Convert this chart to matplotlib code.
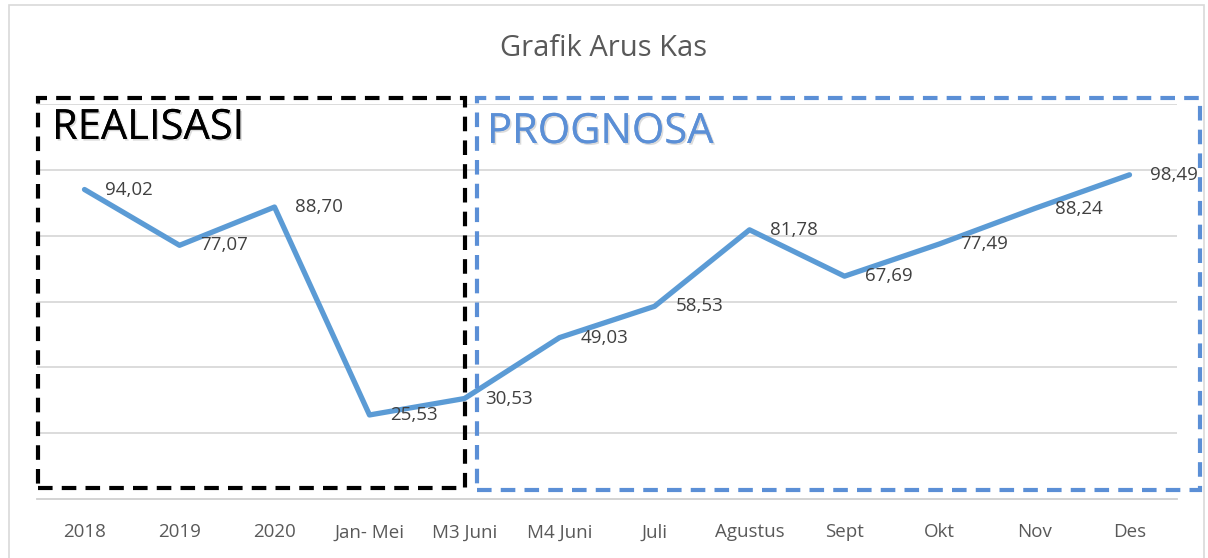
import matplotlib
matplotlib.use("Agg")
import matplotlib.pyplot as plt
from matplotlib.patches import Rectangle
import matplotlib.patheffects as pe

categories = ["2018", "2019", "2020", "Jan- Mei", "M3 Juni", "M4 Juni", "Juli",
              "Agustus", "Sept", "Okt", "Nov", "Des"]
values = [94.02, 77.07, 88.70, 25.53, 30.53, 49.03, 58.53, 81.78, 67.69, 77.49, 88.24, 98.49]
value_labels = ["94,02", "77,07", "88,70", "25,53", "30,53", "49,03", "58,53",
                "81,78", "67,69", "77,49", "88,24", "98,49"]
title = "Grafik Arus Kas"

W, H = 1208, 558
plt.rcParams['font.family'] = ['Open Sans', 'DejaVu Sans']
fig = plt.figure(figsize=(W / 100, H / 100), dpi=100)

def fx(px):
    return px / W

def fy(py):
    return 1 - py / H

# outer chart border
fig.patches.append(Rectangle((fx(9), fy(560)), fx(1204) - fx(9), fy(5) - fy(560),
                             transform=fig.transFigure, fill=False,
                             edgecolor="#D9D9D9", linewidth=1.2))

left, right, top, bottom = 37, 1177, 104, 499
ax = fig.add_axes([fx(left), fy(bottom), fx(right) - fx(left), fy(top) - fy(bottom)])
x = list(range(len(categories)))
ax.plot(x, values, color="#5B9BD5", linewidth=3.8, solid_capstyle="round",
        solid_joinstyle="round", zorder=3)
ax.set_xlim(-0.5, len(categories) - 0.5)
ax.set_ylim(0, 120)
ax.set_yticks([20, 40, 60, 80, 100, 120])
ax.yaxis.grid(True, color="#D9D9D9", linewidth=1.3)
ax.set_axisbelow(True)
for s in ["top", "left", "right"]:
    ax.spines[s].set_visible(False)
ax.spines["bottom"].set_color("#D0D0D0")
ax.spines["bottom"].set_linewidth(1.3)
ax.tick_params(axis="y", left=False, labelleft=False)
ax.tick_params(axis="x", bottom=False, pad=14, labelsize=13.5, labelcolor="#595959")
ax.set_xticks(x)
ax.set_xticklabels(categories)

for xi, v, lab in zip(x, values, value_labels):
    ax.annotate(lab, (xi, v), xytext=(15, 0), textcoords="offset points",
                ha="left", va="center", fontsize=13.5, color="#404040", zorder=4)

fig.text(0.5, fy(48), title, ha="center", va="center", fontsize=21, color="#595959")

# dashed boxes
fig.patches.append(Rectangle((fx(38), fy(488)), fx(465) - fx(38), fy(98) - fy(488),
                             transform=fig.transFigure, fill=False, edgecolor="black",
                             linewidth=3, linestyle=(0, (3.5, 2.2)), zorder=10))
fig.patches.append(Rectangle((fx(477), fy(490)), fx(1200) - fx(477), fy(98) - fy(490),
                             transform=fig.transFigure, fill=False, edgecolor="#5B8FD6",
                             linewidth=3, linestyle=(0, (3.5, 2.2)), zorder=10))

shadow = [pe.withSimplePatchShadow(offset=(1.2, -1.2), shadow_rgbFace="#999999", alpha=0.35),
          pe.Normal()]
fig.text(fx(52), fy(128), "REALISASI", ha="left", va="center", fontsize=30,
         color="black", path_effects=shadow)
fig.text(fx(487), fy(132), "PROGNOSA", ha="left", va="center", fontsize=30,
         color="#5B8FD6", path_effects=shadow)

fig.savefig("out.png", dpi=100)
